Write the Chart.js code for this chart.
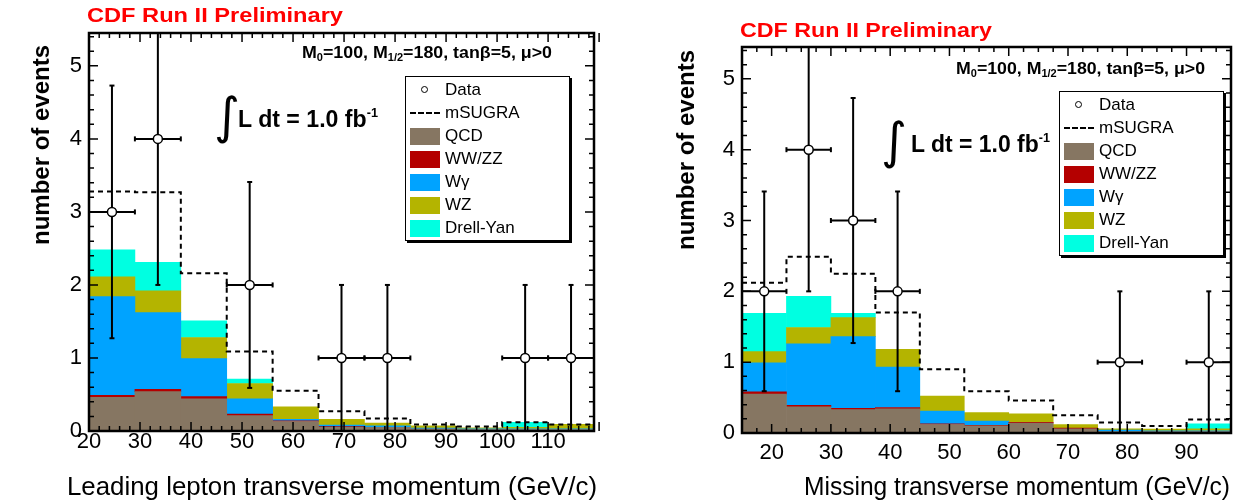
<!DOCTYPE html>
<html>
<head>
<meta charset="utf-8">
<script src="https://cdn.jsdelivr.net/npm/chart.js@4.4.0/dist/chart.umd.min.js"></script>
<style>
  html, body { margin: 0; padding: 0; background: #fff; }
  body { width: 1238px; height: 504px; position: relative; overflow: hidden;
         font-family: "Liberation Sans", Arial, Helvetica, sans-serif; }
  canvas { position: absolute; top: 0; }
  .t { position: absolute; white-space: nowrap; line-height: 1; transform-origin: 0 0; color: #000; }
  .legend { position: absolute; border: 1.5px solid #000; box-shadow: 2px 2px 0 #000; background: #fff; box-sizing: border-box; }
  .legend .row { position: absolute; left: 0; width: 100%; height: 0; }
  .legend .sw { position: absolute; left: 4px; width: 30px; height: 17px; top: -8px; }
  .legend .lab { position: absolute; left: 39px; top: -9px; font-size: 17px; line-height: 1; white-space: nowrap; }
</style>
</head>
<body>
<canvas id="left" width="620" height="504" style="left:0px"></canvas>
<canvas id="right" width="618" height="504" style="left:620px"></canvas>
<script>
// ---- shared series description ----
const seriesLabels = ['QCD', 'WW/ZZ', 'W\u03b3', 'WZ', 'Drell-Yan'];
const seriesColors = ['#867662', '#b40000', '#00a3ff', '#b4b400', '#00ffe1'];
const yTicks = [0, 1, 2, 3, 4, 5];

// ---- leading lepton pT panel ----
const leftEdges  = [20, 29, 38, 47, 56, 65, 74, 83, 92, 101, 110, 119];
const leftQCD    = [0.46, 0.54, 0.44, 0.21, 0.13, 0.05, 0.05, 0.03, 0.02, 0.02, 0.02];
const leftWWZZ   = [0.03, 0.03, 0.03, 0.02, 0.01, 0.01, 0, 0, 0, 0, 0];
const leftWgamma = [1.35, 1.05, 0.52, 0.21, 0.02, 0.02, 0.02, 0.01, 0.01, 0.01, 0.01];
const leftWZ     = [0.27, 0.30, 0.29, 0.21, 0.17, 0.08, 0.04, 0.03, 0.015, 0.02, 0.06];
const leftDY     = [0.37, 0.39, 0.23, 0.06, 0, 0, 0, 0, 0, 0.07, 0];
const leftSUGRA  = [3.28, 3.27, 2.16, 1.09, 0.55, 0.27, 0.17, 0.09, 0.06, 0.12, 0.09];
const leftDataX  = [24.5, 33.5, 51.5, 69.5, 78.5, 105.5, 114.5];
const leftDataY  = [3, 4, 2, 1, 1, 1, 1];
const leftDataErr = [1.73, 2, 1.41, 1, 1, 1, 1];
const leftXTicks = [20, 30, 40, 50, 60, 70, 80, 90, 100, 110];

// ---- missing ET panel ----
const rightEdges  = [15, 22.5, 30, 37.5, 45, 52.5, 60, 67.5, 75, 82.5, 90, 97.5];
const rightQCD    = [0.55, 0.37, 0.33, 0.34, 0.12, 0.10, 0.14, 0.06, 0.02, 0.02, 0.02];
const rightWWZZ   = [0.03, 0.02, 0.02, 0.02, 0.01, 0.01, 0.01, 0.01, 0, 0, 0];
const rightWgamma = [0.41, 0.87, 1.01, 0.57, 0.18, 0.06, 0, 0, 0.02, 0.01, 0.01];
const rightWZ     = [0.16, 0.23, 0.27, 0.25, 0.21, 0.12, 0.12, 0.05, 0.02, 0.025, 0.03];
const rightDY     = [0.54, 0.44, 0.06, 0, 0, 0, 0, 0, 0, 0, 0.07];
const rightSUGRA  = [2.12, 2.49, 2.25, 1.70, 0.90, 0.59, 0.46, 0.25, 0.15, 0.10, 0.19];
const rightDataX  = [18.75, 26.25, 33.75, 41.25, 78.75, 93.75];
const rightDataY  = [2, 4, 3, 2, 1, 1];
const rightDataErr = [1.41, 2, 1.73, 1.41, 1, 1];
const rightXTicks = [20, 30, 40, 50, 60, 70, 80, 90];

const FONT = '"Liberation Sans", Arial, Helvetica, sans-serif';

// Inward major/minor ticks on all four sides plus a heavy frame
const frameTicks = {
  id: 'frameTicks',
  afterDatasetsDraw(chart, args, o) {
    const { ctx, chartArea: a } = chart;
    const xs = chart.scales.x, ys = chart.scales.y;
    ctx.save();
    ctx.strokeStyle = '#000';
    ctx.lineWidth = 1.5;
    ctx.beginPath();
    const nx = Math.round((xs.max - xs.min) / o.xMinor);
    for (let i = 0; i <= nx; i++) {
      const v = xs.min + i * o.xMinor;
      const major = Math.abs(v / o.xMajor - Math.round(v / o.xMajor)) < 1e-6;
      const len = major ? o.majorLen : o.minorLen;
      const px = xs.getPixelForValue(v);
      ctx.moveTo(px, a.bottom); ctx.lineTo(px, a.bottom - len);
      ctx.moveTo(px, a.top); ctx.lineTo(px, a.top + len);
    }
    const ny = Math.floor((ys.max - ys.min) / o.yMinor + 1e-6);
    for (let i = 0; i <= ny; i++) {
      const v = ys.min + i * o.yMinor;
      const major = Math.abs(v - Math.round(v)) < 1e-6;
      const len = major ? o.majorLen : o.minorLen;
      const py = ys.getPixelForValue(v);
      ctx.moveTo(a.left, py); ctx.lineTo(a.left + len, py);
      ctx.moveTo(a.right, py); ctx.lineTo(a.right - len, py);
    }
    ctx.stroke();
    ctx.lineWidth = 2.5;
    ctx.strokeRect(a.left, a.top, a.right - a.left, a.bottom - a.top);
    ctx.restore();
  }
};

function buildPanel(id, p) {
  const centers = p.edges.slice(0, -1).map((e, i) => (e + p.edges[i + 1]) / 2);
  const half = (p.edges[1] - p.edges[0]) / 2;
  const comps = [p.qcd, p.wwzz, p.wgamma, p.wz, p.dy];
  const datasets = comps.map((vals, k) => ({
    type: 'bar', label: seriesLabels[k], stack: 'bg', order: 5,
    data: vals.map((v, i) => ({ x: centers[i], y: v > 0 ? v : null })),
    backgroundColor: seriesColors[k], borderWidth: 0,
    barPercentage: 1, categoryPercentage: 1
  }));
  // signal + background expectation as a dashed step outline
  datasets.push({
    type: 'line', label: 'mSUGRA', order: 2,
    data: p.edges.map((e, i) => ({ x: e, y: p.sugra[Math.min(i, p.sugra.length - 1)] })),
    stepped: 'before', borderColor: '#000', borderWidth: 2, borderDash: [5, 4],
    pointRadius: 0, fill: false
  });
  // error bars: vertical = statistical error, horizontal = bin width
  const err = [];
  p.dataX.forEach((x, i) => {
    const y = p.dataY[i], e = p.dataErr[i];
    err.push({ x, y: y - e }, { x, y: y + e }, { x, y: null },
             { x: x - half, y }, { x: x + half, y }, { x, y: null });
  });
  datasets.push({
    type: 'line', label: 'err', order: 1, data: err, spanGaps: false,
    borderColor: '#000', borderWidth: 2, pointRadius: 0, fill: false
  });
  datasets.push({
    type: 'line', label: 'vcaps', order: 1, showLine: false,
    data: p.dataX.flatMap((x, i) => [{ x, y: p.dataY[i] - p.dataErr[i] }, { x, y: p.dataY[i] + p.dataErr[i] }]),
    pointStyle: 'line', pointRadius: 2.5, pointBorderWidth: 2, pointBorderColor: '#000', rotation: 0
  });
  datasets.push({
    type: 'line', label: 'hcaps', order: 1, showLine: false,
    data: p.dataX.flatMap((x, i) => [{ x: x - half, y: p.dataY[i] }, { x: x + half, y: p.dataY[i] }]),
    pointStyle: 'line', pointRadius: 2.5, pointBorderWidth: 2, pointBorderColor: '#000', rotation: 90
  });
  datasets.push({
    type: 'line', label: 'Data', order: 0, showLine: false,
    data: p.dataX.map((x, i) => ({ x, y: p.dataY[i] })),
    pointRadius: 4.5, pointBackgroundColor: '#fff', pointBorderColor: '#000', pointBorderWidth: 1.5
  });

  new Chart(document.getElementById(id), {
    type: 'bar',
    data: { datasets },
    plugins: [frameTicks],
    options: {
      responsive: false, animation: false, devicePixelRatio: 1, events: [],
      layout: { padding: { left: 0, top: p.padTop, right: p.padRight, bottom: 0 } },
      plugins: {
        legend: { display: false }, tooltip: { enabled: false },
        frameTicks: { xMinor: p.xMinor, xMajor: 10, yMinor: 0.2, majorLen: 9, minorLen: 5 }
      },
      scales: {
        x: {
          type: 'linear', min: p.edges[0], max: p.edges[p.edges.length - 1], offset: false,
          grid: { display: false, drawTicks: false }, border: { display: false },
          afterBuildTicks: s => { s.ticks = p.xTicks.map(v => ({ value: v })); },
          afterFit: s => { s.height = p.xAxisHeight; },
          ticks: { color: '#000', font: { family: FONT, size: 22, lineHeight: 1 }, padding: p.xPad,
                   maxRotation: 0, autoSkip: false, callback: v => String(v) }
        },
        y: {
          type: 'linear', min: 0, max: 5.45,
          grid: { display: false, drawTicks: false }, border: { display: false },
          afterBuildTicks: s => { s.ticks = yTicks.map(v => ({ value: v })); },
          afterFit: s => { s.width = p.yAxisWidth; },
          ticks: { color: '#000', font: { family: FONT, size: 22, lineHeight: 1 }, padding: 7,
                   callback: v => String(v) }
        }
      }
    }
  });
}

buildPanel('left', {
  edges: leftEdges, qcd: leftQCD, wwzz: leftWWZZ, wgamma: leftWgamma, wz: leftWZ, dy: leftDY,
  sugra: leftSUGRA, dataX: leftDataX, dataY: leftDataY, dataErr: leftDataErr, xTicks: leftXTicks,
  xMinor: 2, padTop: 33, padRight: 26, yAxisWidth: 89, xAxisHeight: 73, xPad: 0
});
buildPanel('right', {
  edges: rightEdges, qcd: rightQCD, wwzz: rightWWZZ, wgamma: rightWgamma, wz: rightWZ, dy: rightDY,
  sugra: rightSUGRA, dataX: rightDataX, dataY: rightDataY, dataErr: rightDataErr, xTicks: rightXTicks,
  xMinor: 2.5, padTop: 47, padRight: 7, yAxisWidth: 122, xAxisHeight: 71, xPad: 9
});

// ---- text labels ----
const ASC = 0.8465; // baseline offset for line-height:1 in Liberation Sans
function label(html, o) {
  const d = document.createElement('div');
  d.className = 't';
  d.innerHTML = html;
  d.style.fontSize = o.size + 'px';
  if (o.bold) d.style.fontWeight = 'bold';
  if (o.color) d.style.color = o.color;
  if (o.family) d.style.fontFamily = o.family;
  document.body.appendChild(d);
  const w = d.getBoundingClientRect().width;
  const s = o.width ? o.width / w : 1;
  if (o.rotate) {
    // text runs upward from (baseX, bottom)
    d.style.left = (o.baseX - ASC * o.size) + 'px';
    d.style.top = o.bottom + 'px';
    d.style.transform = 'rotate(-90deg) scaleX(' + s + ')';
  } else {
    d.style.left = o.x + 'px';
    d.style.top = (o.base - ASC * o.size) + 'px';
    d.style.transform = 'scaleX(' + s + ')';
  }
  return d;
}

const SUB = (t) => '<span style="font-size:0.62em;position:relative;top:0.32em">' + t + '</span>';
const SUP = (t) => '<span style="font-size:0.55em;position:relative;top:-0.75em">' + t + '</span>';
const paramText = 'M' + SUB('0') + '=100, M' + SUB('1/2') + '=180, tan\u03b2=5, \u03bc&gt;0';
const lumiText = 'L dt = 1.0 fb' + SUP('-1');

// left panel text
label('CDF Run II Preliminary', { x: 87, base: 21.5, size: 20, bold: true, color: '#ff0000', width: 256 });
label(paramText, { x: 302, base: 58, size: 17, bold: true, width: 250 });
label(lumiText, { x: 238, base: 127, size: 24, bold: true, width: 140 });
label('\u222b', { x: 214, base: 133, size: 50, family: '"DejaVu Sans"' });
label('number of events', { rotate: true, baseX: 49, bottom: 245, size: 24, bold: true, width: 200 });
label('Leading lepton transverse momentum (GeV/c)', { x: 67, base: 495, size: 25, width: 530 });

// right panel text
label('CDF Run II Preliminary', { x: 740, base: 36.5, size: 20, bold: true, color: '#ff0000', width: 252 });
label(paramText, { x: 956, base: 74, size: 17, bold: true, width: 249 });
label(lumiText, { x: 911, base: 152, size: 24, bold: true, width: 139 });
label('\u222b', { x: 881, base: 158, size: 50, family: '"DejaVu Sans"' });
label('number of events', { rotate: true, baseX: 694, bottom: 250, size: 24, bold: true, width: 200 });
label('Missing transverse momentum (GeV/c)', { x: 804, base: 495, size: 25, width: 426 });

// ---- legends ----
function legend(x, y) {
  const box = document.createElement('div');
  box.className = 'legend';
  Object.assign(box.style, { left: x + 'px', top: y + 'px', width: '165px', height: '165px' });
  const rows = [{ label: 'Data', kind: 'marker' }, { label: 'mSUGRA', kind: 'dash' }]
    .concat(seriesLabels.map((l, k) => ({ label: l, color: seriesColors[k] })));
  rows.forEach((r, i) => {
    const row = document.createElement('div');
    row.className = 'row';
    row.style.top = (13 + i * 23) + 'px';
    const sw = document.createElement('div');
    sw.className = 'sw';
    if (r.kind === 'marker') {
      Object.assign(sw.style, { left: '15px', width: '7px', height: '7px', top: '-4px',
        border: '1.3px solid #000', borderRadius: '50%', boxSizing: 'border-box' });
    } else if (r.kind === 'dash') {
      Object.assign(sw.style, { height: '0px', top: '-1px', borderTop: '2px dashed #000' });
    } else {
      sw.style.background = r.color;
    }
    const lab = document.createElement('div');
    lab.className = 'lab';
    lab.textContent = r.label;
    row.appendChild(sw);
    row.appendChild(lab);
    box.appendChild(row);
  });
  document.body.appendChild(box);
}
legend(405, 76);
legend(1059, 91);
</script>
</body>
</html>
